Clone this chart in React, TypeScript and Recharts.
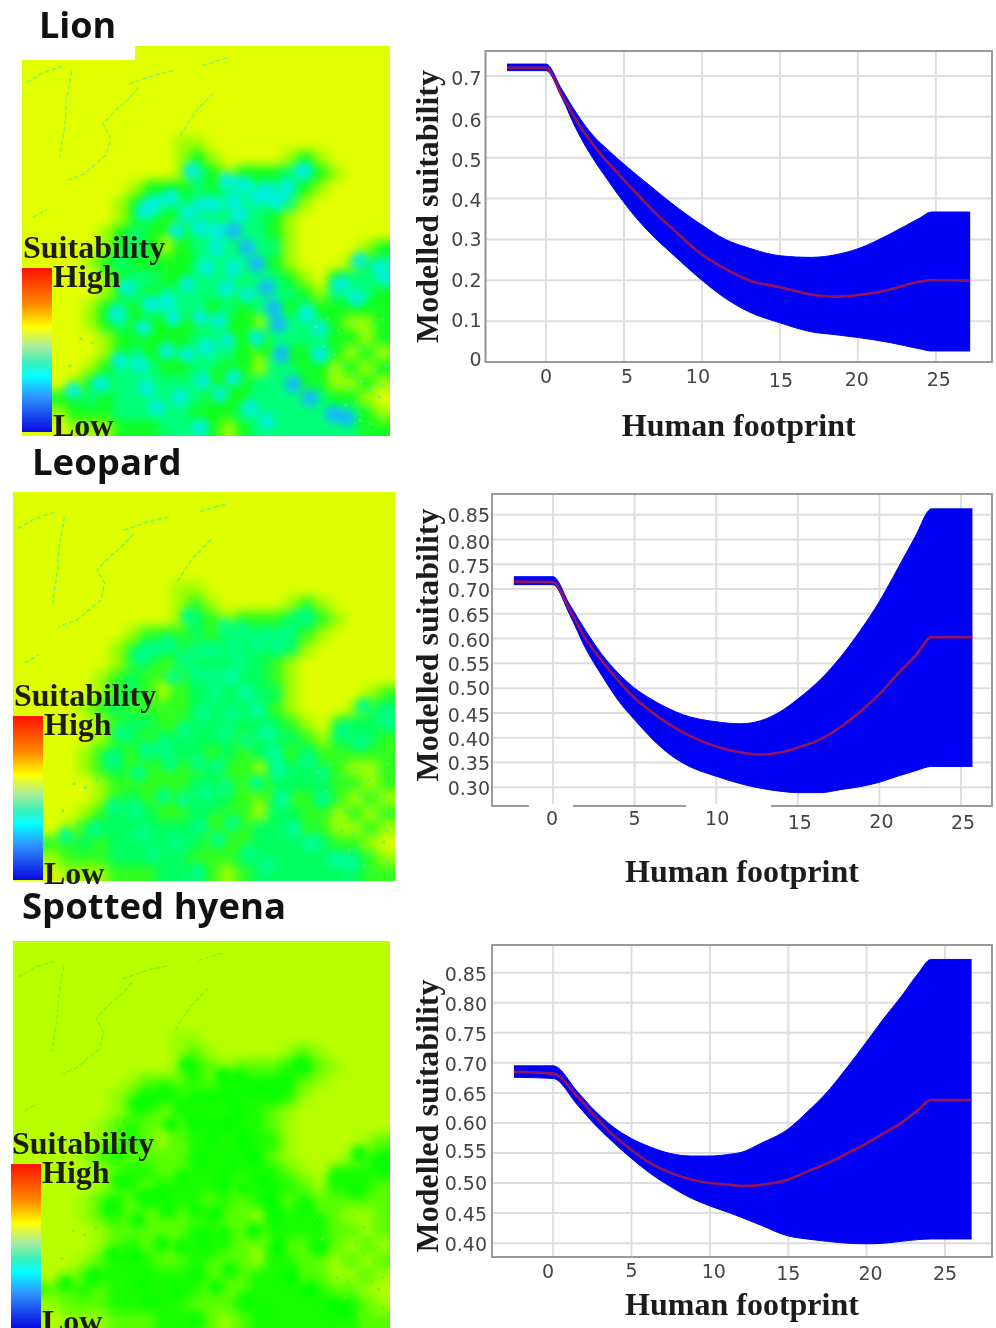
import React from "react";
import { ComposedChart, Area, Line, XAxis, YAxis, CartesianGrid, ReferenceArea, ScatterChart, Scatter } from "recharts";

// ---------- curve data ----------
const lionX = [-2.5, 0, 1, 2, 3, 4, 5, 6, 7, 8, 10, 11.5, 13, 15, 17, 18.5, 20, 22, 24, 24.7, 27.2];
const lionHigh = [0.729, 0.729, 0.668, 0.606, 0.555, 0.518, 0.484, 0.452, 0.421, 0.39, 0.335, 0.3, 0.279, 0.26, 0.256, 0.262, 0.277, 0.312, 0.353, 0.367, 0.367];
const lionLow = [0.713, 0.713, 0.648, 0.565, 0.499, 0.443, 0.39, 0.343, 0.303, 0.268, 0.2, 0.156, 0.123, 0.096, 0.074, 0.067, 0.06, 0.048, 0.032, 0.027, 0.027];
const lionMean = [0.72, 0.72, 0.655, 0.588, 0.533, 0.487, 0.445, 0.405, 0.365, 0.33, 0.263, 0.228, 0.2, 0.183, 0.165, 0.16, 0.164, 0.177, 0.197, 0.2, 0.199];

const leopardX = [-2.4, 0, 1, 2, 3, 4, 5, 6, 7, 8, 10, 11.5, 12.7, 13.9, 15, 16.4, 17.6, 18.8, 20, 21.1, 22.2, 23.2, 25.7];
const leopardHigh = [0.725, 0.725, 0.67, 0.616, 0.568, 0.53, 0.5, 0.478, 0.46, 0.446, 0.432, 0.428, 0.434, 0.452, 0.478, 0.518, 0.562, 0.615, 0.675, 0.74, 0.806, 0.862, 0.862];
const leopardLow = [0.709, 0.709, 0.65, 0.58, 0.525, 0.475, 0.436, 0.4, 0.37, 0.348, 0.322, 0.307, 0.298, 0.292, 0.289, 0.289, 0.295, 0.301, 0.31, 0.322, 0.333, 0.342, 0.342];
const leopardMean = [0.715, 0.714, 0.66, 0.6, 0.555, 0.515, 0.48, 0.453, 0.43, 0.41, 0.382, 0.37, 0.366, 0.37, 0.38, 0.397, 0.421, 0.452, 0.488, 0.528, 0.565, 0.603, 0.603];

const hyenaX = [-2.5, 0, 1.55, 2.6, 3.7, 5, 6.2, 7.5, 8.8, 10, 11.3, 12, 13.25, 15, 16.2, 17.5, 18.8, 20, 21.1, 22.2, 23.3, 24.1, 26.7];
const hyenaHigh = [0.695, 0.695, 0.652, 0.622, 0.596, 0.574, 0.56, 0.549, 0.545, 0.545, 0.548, 0.551, 0.566, 0.59, 0.618, 0.652, 0.694, 0.735, 0.774, 0.81, 0.849, 0.872, 0.872];
const hyenaLow = [0.676, 0.674, 0.63, 0.599, 0.571, 0.541, 0.516, 0.494, 0.475, 0.462, 0.45, 0.443, 0.43, 0.412, 0.407, 0.403, 0.4, 0.399, 0.4, 0.403, 0.406, 0.407, 0.407];
const hyenaMean = [0.685, 0.682, 0.644, 0.613, 0.583, 0.555, 0.533, 0.517, 0.506, 0.5, 0.497, 0.495, 0.497, 0.506, 0.519, 0.533, 0.55, 0.566, 0.583, 0.6, 0.622, 0.638, 0.638];

const xTicks = [0, 5, 10, 15, 20, 25];
const lionYTicks = [0, 0.1, 0.2, 0.3, 0.4, 0.5, 0.6, 0.7];
const lionYLabels = ["0", "0.1", "0.2", "0.3", "0.4", "0.5", "0.6", "0.7"];
const leopardYTicks = [0.3, 0.35, 0.4, 0.45, 0.5, 0.55, 0.6, 0.65, 0.7, 0.75, 0.8, 0.85];
const leopardYLabels = ["0.30", "0.35", "0.40", "0.45", "0.50", "0.55", "0.60", "0.65", "0.70", "0.75", "0.80", "0.85"];
const hyenaYTicks = [0.4, 0.45, 0.5, 0.55, 0.6, 0.65, 0.7, 0.75, 0.8, 0.85];
const hyenaYLabels = ["0.40", "0.45", "0.50", "0.55", "0.60", "0.65", "0.70", "0.75", "0.80", "0.85"];

// ---------- map data: suitability class per cell ----------
const terrainRows = [
  "000000000000000000000000",
  "000000000000000000000000",
  "000000000000000000000000",
  "000000000000000000000000",
  "000000000000000000000000",
  "000000000000000000000000",
  "000000000011000000000000",
  "000000000012100001210000",
  "000000000013212223321000",
  "000000012223233333210000",
  "000000123332333333100000",
  "000000123223333321000000",
  "000001232123333321000000",
  "000001232123333331000012",
  "000012322223333321000123",
  "000001233223333332102333",
  "000001232333332333213332",
  "000012323333232332322222",
  "000012322222322133322112",
  "000001222223322233332212",
  "000001232223332133232121",
  "000012333223322133221212",
  "000123333333222333321121",
  "232232333333222333332210",
  "111222333332223333333321",
  "000111222333212333333322",
];
// class-4 blobs, in units of a 1104 x 1170 map
const blobX = [509, 844, 794, 734, 664, 614, 764, 704, 634, 574, 534, 394, 444, 364, 494, 584, 534, 464, 654, 584, 634, 614, 674, 554, 494, 384, 434, 284, 314, 364, 454, 534, 594, 704, 854, 894, 434, 494, 554, 614, 894, 294, 354, 474, 404, 544, 594, 534, 684, 734, 954, 1014, 1004, 1074, 1094, 374, 234, 154, 634];
const blobY = [375, 375, 425, 435, 415, 405, 465, 455, 465, 475, 475, 475, 455, 495, 505, 555, 545, 555, 505, 605, 665, 725, 745, 665, 715, 775, 765, 805, 725, 845, 815, 815, 825, 875, 805, 845, 915, 925, 905, 885, 925, 945, 955, 1055, 1085, 1005, 1045, 1145, 1085, 1125, 715, 645, 755, 665, 695, 1025, 1015, 1035, 995];
// class-5 blobs along the central ridge
const ridgeX = [634, 674, 704, 734, 754, 769, 779, 814, 864, 934, 974];
const ridgeY = [555, 605, 655, 725, 785, 835, 925, 1015, 1055, 1105, 1115];
// class-2 hollows
const hollowX = [664, 664, 414, 484, 724, 814, 624, 850, 480, 590];
const hollowY = [825, 935, 545, 625, 905, 925, 1065, 1010, 700, 990];

const streamLines = [
  [[13.5, 6.4], [12.1, 14], [11.7, 20], [10.3, 28.6]],
  [[31.6, 10.7], [28.4, 14.1], [25.2, 16.7], [22, 20], [24, 23.5], [23, 27.8], [16.7, 32.9], [12, 34.6]],
  [[1.3, 9.4], [5.8, 6.8], [11.2, 5.1]],
  [[29, 9.8], [36.6, 7.3], [41, 6.4]],
  [[3, 44], [6.7, 41.9]],
  [[43, 23], [47, 17], [52, 12]],
  [[49, 5], [56, 3]],
];
const speckX = [80, 83, 86, 90, 93, 96, 98, 82, 85, 88, 91, 94, 97, 84, 87, 90, 93, 96, 99, 86, 89, 92, 95, 98, 88, 91, 94, 97, 16, 19, 22, 13, 17, 92, 95, 98];
const speckY = [72, 70, 73, 71, 74, 72, 70, 77, 79, 76, 78, 77, 79, 83, 82, 84, 81, 83, 82, 87, 88, 86, 88, 87, 92, 91, 93, 90, 75, 76, 74, 82, 85, 96, 97, 95];

const lionPalette = ["#e2ff00", "#9dff00", "#10ff20", "#00ff78", "#00f0e0", "#18b8ff"];
const leopardPalette = ["#deff00", "#a0ff00", "#30ff20", "#00ff60", "#00ff88", "#00ffa0"];
const hyenaPalette = ["#b8ff00", "#98ff00", "#58ff00", "#18ff00", "#08ff00", "#00ff00"];

const legendGradient =
  "linear-gradient(to bottom,#ff1000 0%,#ff8a00 22%,#ffff00 36%,#a8eea0 48%,#40f0b8 57%,#00ffff 66%,#3098ff 78%,#0808e0 100%)";

const SERIF = "'Liberation Serif', serif";
const SANS = "'Open Sans', sans-serif";

function zip(xs: number[], lo: number[], hi: number[], mean: number[]) {
  return xs.map((x, i) => ({ x, band: [lo[i], hi[i]], mean: mean[i] }));
}

function Curve(p: any) {
  const W = 596;
  const top = p.plotTop - 4;
  const xAxisH = p.xAxisH;
  const H = p.plotBottom + xAxisH - top;
  const xTick = (t: any) => (
    <text x={t.x + p.xNudge[t.index][0]} y={t.y + p.xNudge[t.index][1]} textAnchor="middle" dominantBaseline="central"
      fontFamily="'DejaVu Sans', sans-serif" fontSize={19} fill="#444">{t.payload.value}</text>
  );
  const yTick = (t: any) => (
    <text x={t.x + p.yDx} y={t.y + p.yNudge[t.index]} textAnchor="end" dominantBaseline="central"
      fontFamily="'DejaVu Sans', sans-serif" fontSize={19} fill="#444">{p.yLabels[t.index]}</text>
  );
  return (
    <div style={{ position: "absolute", left: 400, top }}>
      <ComposedChart width={W} height={H} data={p.data} margin={{ top: 4, right: 4, bottom: 0, left: 0 }}>
        <CartesianGrid stroke="#dedede" strokeWidth={2} />
        <XAxis dataKey="x" type="number" domain={p.xDomain} ticks={xTicks} height={xAxisH} tickSize={0} tickMargin={0} tickLine={false}
          axisLine={false} allowDataOverflow tick={xTick} interval={0}
          label={{ value: "Human footprint", position: "insideBottom", offset: p.plotBottom + xAxisH - p.xLabelBottom,
            style: { fontFamily: SERIF, fontWeight: 700, fontSize: 32, fill: "#1c1c1c" } }} />
        <YAxis type="number" domain={p.yDomain} ticks={p.yTicks} width={p.plotLeft - 400} tickSize={0} tickMargin={0} tickLine={false}
          axisLine={false} allowDataOverflow tick={yTick} interval={0}
          label={{ value: "Modelled suitability", angle: -90, position: "insideLeft", offset: 27, dy: p.yLabelDy,
            style: { textAnchor: "middle", fontFamily: SERIF, fontWeight: 700, fontSize: 32, fill: "#1c1c1c" } }} />
        <ReferenceArea x1={p.xDomain[0]} x2={p.xDomain[1]} y1={p.yDomain[0]} y2={p.yDomain[1]} fill="none" stroke="#9a9a9a" strokeWidth={2} />
        <Area dataKey="band" type="monotone" stroke="#0000f5" strokeWidth={1} fill="#0000f5" fillOpacity={1} dot={false} activeDot={false} isAnimationActive={false} />
        <Line dataKey="mean" type="monotone" stroke="#93145e" strokeWidth={2.6} dot={false} activeDot={false} isAnimationActive={false} />
      </ComposedChart>
    </div>
  );
}

function buildCells(palette: string[]) {
  const out: any[] = [];
  for (let r = -2; r < 28; r++) {
    const row = terrainRows[Math.max(0, Math.min(25, r))];
    for (let c = -2; c < 26; c++) {
      const lv = Number(row[Math.max(0, Math.min(23, c))] || 0);
      out.push({ x: c + 0.5, y: r + 0.5, fill: palette[lv] });
    }
  }
  return out;
}

function HeatMap(p: any) {
  const cw = p.w / 24;
  const ch = p.h / 26;
  const cells = buildCells(p.palette);
  const cellShape = (s: any) => (
    <rect x={s.cx - cw / 2 - 0.5} y={s.cy - ch / 2 - 0.5} width={cw + 1} height={ch + 1} fill={s.payload.fill} />
  );
  const specks = speckX.map((x, i) => ({ x, y: speckY[i] }));
  const blobs = blobX.map((x, i) => ({ x, y: blobY[i] }));
  const ridge = ridgeX.map((x, i) => ({ x, y: ridgeY[i] }));
  const hollows = hollowX.map((x, i) => ({ x, y: hollowY[i] }));
  const circle = (fill: string, r: number) => (s: any) => <circle cx={s.cx} cy={s.cy} r={r} fill={fill} />;
  return (
    <div style={{ position: "absolute", left: p.x, top: p.y, width: p.w, height: p.h, overflow: "hidden" }}>
      <div style={{ position: "absolute", left: -2 * cw, top: -2 * ch, filter: `blur(${cw * 0.34}px)` }}>
        <ScatterChart width={cw * 28} height={ch * 30} margin={{ top: 0, right: 0, bottom: 0, left: 0 }}>
          <XAxis dataKey="x" type="number" domain={[-2, 26]} hide />
          <YAxis dataKey="y" type="number" domain={[-2, 28]} reversed hide width={0} />
          <Scatter data={cells} shape={cellShape} isAnimationActive={false} />
        </ScatterChart>
      </div>
      <div style={{ position: "absolute", left: 0, top: 0, filter: "blur(4px)" }}>
        <ScatterChart width={p.w} height={p.h} margin={{ top: 0, right: 0, bottom: 0, left: 0 }}>
          <XAxis dataKey="x" type="number" domain={[0, 1104]} hide />
          <YAxis dataKey="y" type="number" domain={[0, 1170]} reversed hide width={0} />
          <Scatter data={hollows} shape={circle(p.palette[2], 9)} isAnimationActive={false} />
          <Scatter data={blobs} shape={circle(p.palette[4], 8.5)} isAnimationActive={false} />
          <Scatter data={ridge} shape={circle(p.palette[5], 8.5)} isAnimationActive={false} />
        </ScatterChart>
      </div>
      <div style={{ position: "absolute", left: 0, top: 0, filter: "blur(0.7px)" }}>
        <ScatterChart width={p.w} height={p.h} margin={{ top: 0, right: 0, bottom: 0, left: 0 }}>
          <XAxis dataKey="x" type="number" domain={[0, 100]} hide />
          <YAxis dataKey="y" type="number" domain={[0, 100]} reversed hide width={0} />
          {streamLines.map((pts, i) => (
            <Scatter key={i} data={pts.map(([x, y]) => ({ x, y }))} line={{ stroke: p.streamColor, strokeWidth: 1.3, strokeDasharray: "5 2", strokeOpacity: 0.75 }}
              shape={() => <g />} isAnimationActive={false} />
          ))}
          <Scatter data={specks} shape={(s: any) => <circle cx={s.cx} cy={s.cy} r={1.6} fill={p.streamColor} fillOpacity={0.7} />} isAnimationActive={false} />
        </ScatterChart>
      </div>
    </div>
  );
}

function Txt(p: any) {
  return (
    <div style={{ position: "absolute", left: p.x, top: p.y, fontFamily: p.font, fontWeight: p.weight, fontSize: p.size, lineHeight: 1, color: p.color, whiteSpace: "nowrap" }}>
      {p.children}
    </div>
  );
}

function Legend(p: any) {
  return (
    <>
      <div style={{ position: "absolute", left: p.x, top: p.y, width: 30, height: 164, background: legendGradient }} />
      <Txt x={p.x + 1} y={p.y - 37} font={SERIF} weight={700} size={32} color="#1c1c10">Suitability</Txt>
      <Txt x={p.x + 31} y={p.y - 8} font={SERIF} weight={700} size={32} color="#1c1c10">High</Txt>
      <Txt x={p.x + 31} y={p.y + 141} font={SERIF} weight={700} size={32} color="#1c1c10">Low</Txt>
    </>
  );
}

export default function App() {
  return (
    <div style={{ position: "absolute", left: 0, top: 0, width: 996, height: 1328, overflow: "hidden", background: "#fff", filter: "blur(0.4px)" }}>
      <HeatMap x={22} y={46} w={368} h={390} palette={lionPalette} streamColor="#60f090" />
      <div style={{ position: "absolute", left: 0, top: 0, width: 135, height: 60, background: "#fff" }} />
      <HeatMap x={13} y={492} w={382} h={389} palette={leopardPalette} streamColor="#50f080" />
      <HeatMap x={13} y={941} w={377} h={387} palette={hyenaPalette} streamColor="#70f020" />

      <Txt x={39} y={7} font={SANS} weight={700} size={36} color="#111">Lion</Txt>
      <Txt x={32} y={443} font={SANS} weight={700} size={36.5} color="#111">Leopard</Txt>
      <Txt x={22} y={887} font={SANS} weight={700} size={36.5} color="#111">Spotted hyena</Txt>

      <Legend x={22} y={268} />
      <Legend x={13} y={716} />
      <Legend x={11} y={1164} />

      <Curve data={zip(lionX, lionLow, lionHigh, lionMean)} plotLeft={485.5} plotTop={51} plotBottom={362} xAxisH={90}
        xDomain={[-3.88, 28.6]} yDomain={[0, 0.761]} yTicks={lionYTicks} yLabels={lionYLabels}
        xNudge={[[0, 14], [3, 14], [-4, 14], [1, 18], [-1, 17], [3, 17]]} yNudge={[-3, -1, 0, 0, 1, 2, 3, 2]} yDx={-4}
        xLabelBottom={436} yLabelDy={0} />
      <Curve data={zip(leopardX, leopardLow, leopardHigh, leopardMean)} plotLeft={492} plotTop={494} plotBottom={806} xAxisH={90}
        xDomain={[-3.74, 26.9]} yDomain={[0.262, 0.892]} yTicks={leopardYTicks} yLabels={leopardYLabels}
        xNudge={[[-1, 12], [0, 12], [1, 12], [2, 16], [2, 15], [2, 16]]} yNudge={[1, 1, 1, 2, 0, 1, 1, 1, 1, 2, 2, 0]} yDx={-2}
        xLabelBottom={882} yLabelDy={-5} />
      <Curve data={zip(hyenaX, hyenaLow, hyenaHigh, hyenaMean)} plotLeft={492} plotTop={945} plotBottom={1257} xAxisH={71}
        xDomain={[-3.9, 28.0]} yDomain={[0.377, 0.896]} yTicks={hyenaYTicks} yLabels={hyenaYLabels}
        xNudge={[[-5, 14], [0, 13], [4, 14], [0, 16], [4, 16], [0, 16]]} yNudge={[1, 1, 0, -2, 0, 1, 1, 1, 1, 1]} yDx={-5}
        xLabelBottom={1315} yLabelDy={15} />

      {/* the leopard panel's bottom frame is broken in two places in the source */}
      <div style={{ position: "absolute", left: 529, top: 804, width: 44, height: 4, background: "#fff" }} />
      <div style={{ position: "absolute", left: 686, top: 804, width: 85, height: 4, background: "#fff" }} />
    </div>
  );
}
